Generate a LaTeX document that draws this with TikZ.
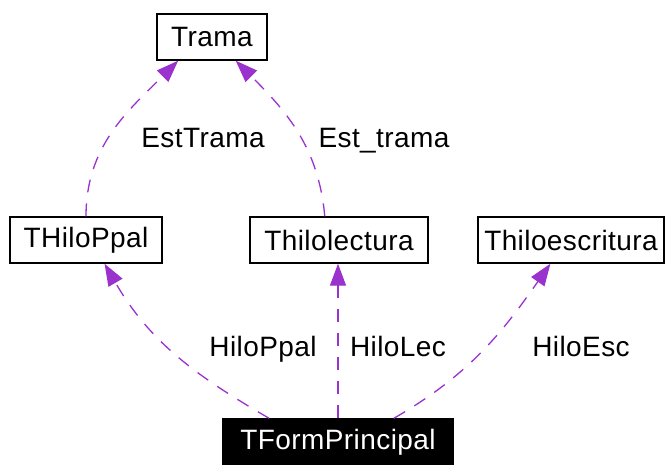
\documentclass[tikz,border=0pt]{standalone}
\usepackage{fontspec}
\setmainfont[LetterSpace=1.5]{Liberation Sans}
\usetikzlibrary{arrows.meta}
\definecolor{linkcol}{RGB}{154,50,205}
\tikzset{
  classbox/.style={draw=black, line width=1.4pt, fill=white, minimum height=46pt,
    inner sep=0pt, font=\fontsize{28}{32}\selectfont},
  mainbox/.style={classbox, fill=black, text=white},
  link/.style={->, linkcol, line width=1.3pt, dash pattern=on 13pt off 11pt},
  linklabel/.style={font=\fontsize{28}{32}\selectfont, inner sep=0pt, anchor=base}
}
\begin{document}
\begin{tikzpicture}[x=1pt,y=1pt,>={Triangle[length=22pt,width=16pt]}]
            \useasboundingbox (0,0) rectangle (666,464);
            % classes
            \node[classbox, minimum width=110pt] (trama) at (212,427) {Trama};
            \node[classbox, minimum width=152pt] (ppal) at (86,224) {THiloPpal};
            \node[classbox, minimum width=178pt] (lect) at (339,224) {Thilolectura};
            \node[classbox, minimum width=186pt] (escr) at (571,224) {Thiloescritura};
            \node[mainbox, minimum width=230pt] (form) at (338,22) {TFormPrincipal};
            % links
            \draw[link] (ppal.north) to[out=90,in=225] (trama.215);
            \draw[link] (lect.121) to[out=95,in=-45] (trama.315);
            \draw[link] (form.161) to[out=150,in=-60] (ppal.308);
            \draw[link] (form.north) -- (form.north |- lect.south);
            \draw[link] (form.23) to[out=30,in=235] (escr.229);
            % labels
            \node[linklabel] (lestt) at (203,316) {EstTrama};
            \node[linklabel] (lest) at (384,316) {Est\_trama};
            \node[linklabel] (lppal) at (263,108) {HiloPpal};
            \node[linklabel] (llec) at (398,108) {HiloLec};
            \node[linklabel] (lesc) at (581,108) {HiloEsc};
        \end{tikzpicture}
\end{document}
